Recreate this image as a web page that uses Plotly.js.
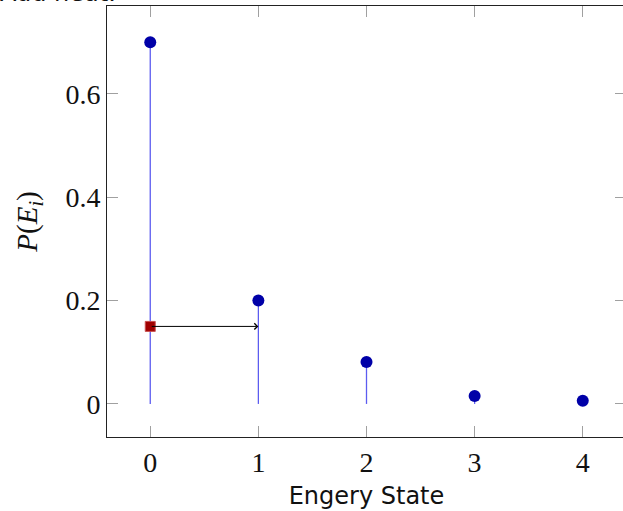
<!DOCTYPE html>
<html>
<head>
<meta charset="utf-8">
<script src="https://cdn.plot.ly/plotly-3.0.1.min.js"></script>
<style>
html,body{margin:0;padding:0;overflow:hidden;background:#fff;}
#chart{width:630px;height:511px;}
</style>
</head>
<body>
<div id="chart"></div>
<script>
// Data
var states = [0, 1, 2, 3, 4];
var probs = [0.7, 0.2, 0.081, 0.0155, 0.006];
var heatStart = [0, 0.15];
var heatEnd = [1, 0.15];
var xTickVals = [0, 1, 2, 3, 4];
var yTickVals = [0, 0.2, 0.4, 0.6];
var yTickText = ['0', '0.2', '0.4', '0.6'];

// Build stems from the arrays
var stemX = [], stemY = [];
for (var i = 0; i < states.length; i++) {
  stemX.push(states[i], states[i], null);
  stemY.push(0, probs[i], null);
}

var traces = [
  {x: stemX, y: stemY, mode: 'lines', line: {color: '#5c5cf0', width: 1.3},
   hoverinfo: 'skip', showlegend: false},
  {x: states, y: probs, mode: 'markers',
   marker: {symbol: 'circle', size: 12, color: '#0000a8'}, showlegend: false},
  {x: [heatStart[0]], y: [heatStart[1]], mode: 'markers',
   marker: {symbol: 'square', size: 10, color: '#a00000', line: {color: '#c85050', width: 1}},
   showlegend: false}
];

var serif = 'Liberation Serif, DejaVu Serif, serif';
var sans = 'DejaVu Sans, sans-serif';

var layout = {
  width: 630, height: 511,
  margin: {l: 107, r: 4, t: 6, b: 74},
  paper_bgcolor: '#fff', plot_bgcolor: '#fff',
  xaxis: {
    range: [-0.4, 4.4], tickvals: xTickVals, ticktext: xTickVals.map(String),
    ticks: 'inside', ticklen: 11, tickcolor: '#a0a0a0', tickwidth: 1,
    showline: true, linecolor: '#222', linewidth: 1, mirror: 'all',
    showgrid: false, zeroline: false,
    tickfont: {family: serif, size: 28, color: '#111'},
    title: {text: 'Engery State', font: {family: sans, size: 24, color: '#111'}, standoff: 10}
  },
  yaxis: {
    range: [-0.064, 0.77], tickvals: yTickVals, ticktext: yTickText,
    ticks: 'inside', ticklen: 11, tickcolor: '#a0a0a0', tickwidth: 1,
    showline: true, linecolor: '#222', linewidth: 1, mirror: 'all',
    showgrid: false, zeroline: false,
    tickfont: {family: serif, size: 28, color: '#111'},
    title: {text: '<i>P</i>(<i>E<sub>i</sub></i>)', font: {family: serif, size: 29, color: '#111'}, standoff: 19}
  },
  annotations: [
    {x: heatEnd[0], y: heatEnd[1], ax: heatStart[0], ay: heatStart[1],
     xref: 'x', yref: 'y', axref: 'x', ayref: 'y',
     showarrow: true, arrowhead: 4, arrowsize: 1.2, arrowwidth: 1, arrowcolor: '#000',
     text: ''},
    {text: 'Add heat.', xref: 'paper', yref: 'paper', x: 0, y: 1,
     xanchor: 'left', yanchor: 'bottom', xshift: -109, yshift: -3,
     showarrow: false, font: {family: sans, size: 24, color: '#111'}}
  ]
};

Plotly.newPlot('chart', traces, layout, {staticPlot: true, displayModeBar: false});
</script>
</body>
</html>
